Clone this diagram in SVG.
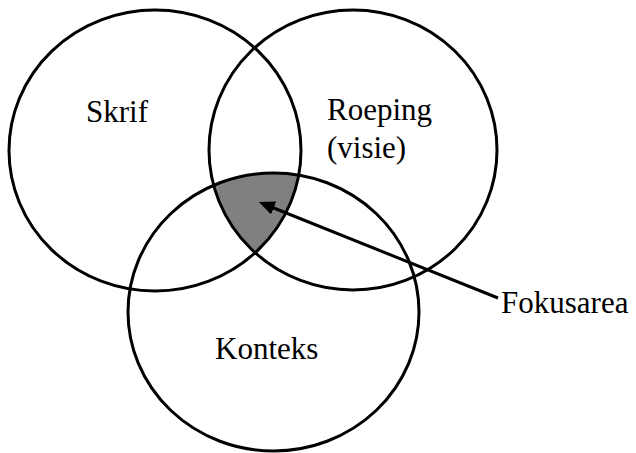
<svg xmlns="http://www.w3.org/2000/svg" width="636" height="453" viewBox="0 0 636 453">
<style>
.c{fill:none;stroke:#000;stroke-width:3}
.t{font-family:"Liberation Serif","Times New Roman",serif;font-size:31px;fill:#000}
</style>
<defs>
<clipPath id="cL"><ellipse cx="155" cy="150.5" rx="146" ry="140.5"/></clipPath>
<clipPath id="cR"><ellipse cx="353" cy="150" rx="144" ry="140"/></clipPath>
<marker id="ah" markerWidth="16" markerHeight="14" refX="4" refY="7" orient="auto" markerUnits="userSpaceOnUse">
<path d="M0,0 L16,7 L0,14 z" fill="#000"/>
</marker>
</defs>
<g id="focus">
<g clip-path="url(#cR)"><ellipse clip-path="url(#cL)" cx="273.5" cy="312" rx="145.5" ry="139" fill="#808080"/></g>
</g>
<g id="skrif">
<ellipse class="c" cx="155" cy="150.5" rx="146" ry="140.5"/>
<text class="t" x="86" y="122">Skrif</text>
</g>
<g id="roeping">
<ellipse class="c" cx="353" cy="150" rx="144" ry="140"/>
<text class="t" x="327" y="120">Roeping</text>
<text class="t" x="327" y="158">(visie)</text>
</g>
<g id="konteks">
<ellipse class="c" cx="273.5" cy="312" rx="145.5" ry="139"/>
<text class="t" x="215" y="359">Konteks</text>
</g>
<g id="fokusarea">
<text class="t" x="501" y="313">Fokusarea</text>
</g>
<g id="connectors">
<line x1="498" y1="298" x2="270" y2="206.5" stroke="#000" stroke-width="3" marker-end="url(#ah)"/>
</g>
</svg>
